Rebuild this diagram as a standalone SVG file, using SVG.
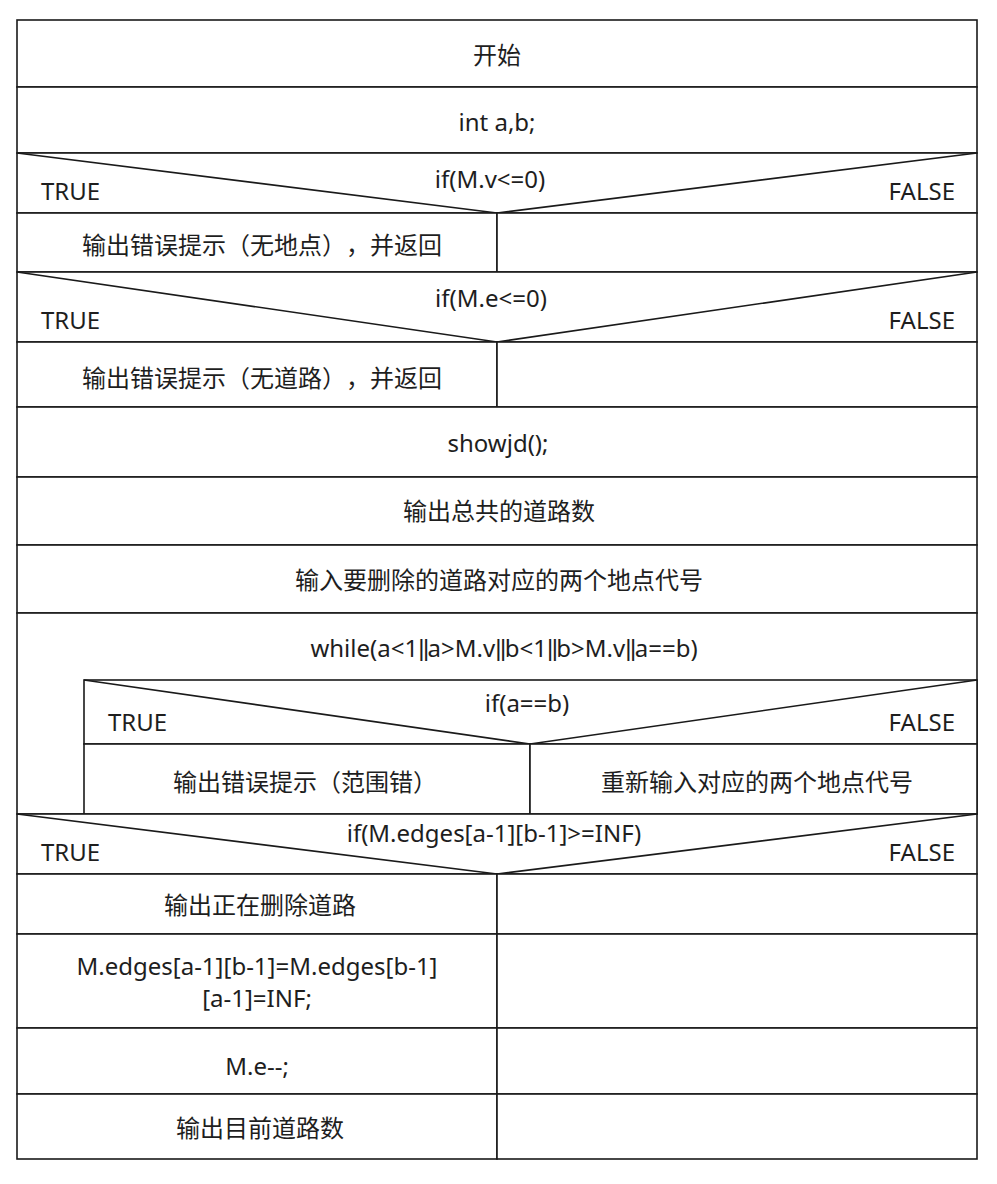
<svg xmlns="http://www.w3.org/2000/svg" width="997" height="1184" viewBox="0 0 997 1184">
  <style>
    .box { fill: #ffffff; stroke: #1a1a1a; stroke-width: 1.6; }
    .ln { fill: none; stroke: #1a1a1a; stroke-width: 1.6; }
    .t { font-family: "Noto Sans", "Noto Sans CJK SC", sans-serif; font-size: 24px; fill: #1e1e1e; dominant-baseline: central; text-spacing-trim: space-all; }
    .c { text-anchor: middle; }
    .r { text-anchor: end; }
    .bar { font-family: "Liberation Sans", sans-serif; letter-spacing: -1.5px; }
  </style>
  <rect x="0" y="0" width="997" height="1184" fill="#ffffff"/>
  <!-- sequential blocks -->
  <g id="start">
    <rect class="box" x="17" y="20" width="960" height="67"/>
    <text class="t c" x="497" y="54">开始</text>
  </g>
  <g id="decl">
    <rect class="box" x="17" y="87" width="960" height="66"/>
    <text class="t c" x="497" y="121">int a,b;</text>
  </g>
  <g id="if-v">
    <rect class="box" x="17" y="153" width="960" height="60"/>
    <polyline class="ln" points="17,153 497,213 977,153"/>
    <text class="t c" x="490" y="178">if(M.v&lt;=0)</text>
    <text class="t" x="41" y="190">TRUE</text>
    <text class="t r" x="955" y="190">FALSE</text>
  </g>
  <g id="v-err">
    <rect class="box" x="17" y="213" width="480" height="59"/>
    <rect class="box" x="497" y="213" width="480" height="59"/>
    <text class="t c" x="262" y="244">输出错误提示（无地点），并返回</text>
  </g>
  <g id="if-e">
    <rect class="box" x="17" y="272" width="960" height="70"/>
    <polyline class="ln" points="17,272 497,342 977,272"/>
    <text class="t c" x="491" y="297">if(M.e&lt;=0)</text>
    <text class="t" x="41" y="319">TRUE</text>
    <text class="t r" x="955" y="319">FALSE</text>
  </g>
  <g id="e-err">
    <rect class="box" x="17" y="342" width="480" height="65"/>
    <rect class="box" x="497" y="342" width="480" height="65"/>
    <text class="t c" x="262" y="377">输出错误提示（无道路），并返回</text>
  </g>
  <g id="showjd">
    <rect class="box" x="17" y="407" width="960" height="70"/>
    <text class="t c" x="498" y="442">showjd();</text>
  </g>
  <g id="print-count">
    <rect class="box" x="17" y="477" width="960" height="68"/>
    <text class="t c" x="499" y="510">输出总共的道路数</text>
  </g>
  <g id="input-ab">
    <rect class="box" x="17" y="545" width="960" height="68"/>
    <text class="t c" x="499" y="579">输入要删除的道路对应的两个地点代号</text>
  </g>
  <!-- while loop with nested decision -->
  <g id="while">
    <rect class="box" x="17" y="613" width="960" height="201"/>
    <text class="t c" x="504" y="647">while(a&lt;1<tspan class="bar">||</tspan>a&gt;M.v<tspan class="bar">||</tspan>b&lt;1<tspan class="bar">||</tspan>b&gt;M.v<tspan class="bar">||</tspan>a==b)</text>
  </g>
  <g id="if-ab">
    <rect class="box" x="84" y="680" width="893" height="64"/>
    <polyline class="ln" points="84,680 530,744 977,680"/>
    <text class="t c" x="527" y="702">if(a==b)</text>
    <text class="t" x="108" y="721">TRUE</text>
    <text class="t r" x="955" y="721">FALSE</text>
  </g>
  <g id="ab-branches">
    <rect class="box" x="84" y="744" width="446" height="70"/>
    <rect class="box" x="530" y="744" width="447" height="70"/>
    <text class="t c" x="305" y="781">输出错误提示（范围错）</text>
    <text class="t c" x="757" y="781">重新输入对应的两个地点代号</text>
  </g>
  <g id="if-inf">
    <rect class="box" x="17" y="814" width="960" height="60"/>
    <polyline class="ln" points="17,814 497,874 977,814"/>
    <text class="t c" x="494" y="832">if(M.edges[a-1][b-1]&gt;=INF)</text>
    <text class="t" x="41" y="851">TRUE</text>
    <text class="t r" x="955" y="851">FALSE</text>
  </g>
  <g id="del-msg">
    <rect class="box" x="17" y="874" width="480" height="60"/>
    <rect class="box" x="497" y="874" width="480" height="60"/>
    <text class="t c" x="260" y="904">输出正在删除道路</text>
  </g>
  <g id="del-assign">
    <rect class="box" x="17" y="934" width="480" height="94"/>
    <rect class="box" x="497" y="934" width="480" height="94"/>
    <text class="t c" x="257" y="965">M.edges[a-1][b-1]=M.edges[b-1]</text>
    <text class="t c" x="257" y="997">[a-1]=INF;</text>
  </g>
  <g id="dec-e">
    <rect class="box" x="17" y="1028" width="480" height="66"/>
    <rect class="box" x="497" y="1028" width="480" height="66"/>
    <text class="t c" x="257" y="1065">M.e--;</text>
  </g>
  <g id="print-now">
    <rect class="box" x="17" y="1094" width="480" height="65"/>
    <rect class="box" x="497" y="1094" width="480" height="65"/>
    <text class="t c" x="260" y="1127">输出目前道路数</text>
  </g>
  <g id="connectors"></g>
</svg>
